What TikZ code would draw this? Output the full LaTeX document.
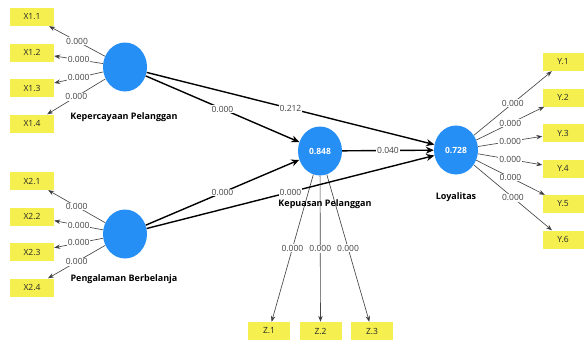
\documentclass[tikz,border=0pt]{standalone}
\usepackage{fontspec}
\setmainfont{Open Sans}
\usepackage{tikz}
\usetikzlibrary{shapes, arrows.meta, positioning}
\definecolor{lvblue}{RGB}{38,143,245}
\definecolor{mvyellow}{RGB}{245,240,80}
\definecolor{loadgray}{RGB}{70,70,70}
\tikzset{
    latent/.style={
        ellipse,
        fill=lvblue,
        minimum width=44pt,
        minimum height=49pt,
        inner sep=0pt,
        text=white,
        font=\fontsize{8.5}{10}\selectfont\bfseries,
    },
    indic/.style={
        rectangle,
        fill=mvyellow,
        minimum width=44pt,
        minimum height=18pt,
        text=black!85,
        font=\fontsize{8.5}{10}\selectfont,
    },
    lvname/.style={
        font=\fontsize{9}{11}\selectfont\bfseries,
    },
    coef/.style={
        fill=white,
        inner sep=0.8pt,
        text=black!75,
        font=\fontsize{8.5}{10}\selectfont,
    },
    loading/.style={
        -{Stealth[length=6pt,width=4.5pt]},
        draw=loadgray,
        line width=0.65pt,
    },
    inner/.style={
        -{Stealth[length=8pt,width=7pt]},
        draw=black,
        line width=1.4pt,
    },
}

\begin{document}
\begin{tikzpicture}[x=1pt, y=-1pt, node distance=35.5pt]
      \useasboundingbox (0,0) rectangle (584,340);

      % latent variables
      \node [latent] (KP) at (125,67) {};
      \node [latent] (PB) at (125,234) {};
      \node [latent] (KS) at (320,151) {0.848};
      \node [latent] (LY) at (456,150) {0.728};

      % indicators
      \node [indic] (X11) at (32,17) {X1.1};
      \node [indic] (X12) [below of=X11] {X1.2};
      \node [indic] (X13) [below of=X12] {X1.3};
      \node [indic] (X14) [below of=X13] {X1.4};

      \node [indic] (X21) at (32,181) {X2.1};
      \node [indic] (X22) [below of=X21] {X2.2};
      \node [indic] (X23) [below of=X22] {X2.3};
      \node [indic] (X24) [below of=X23] {X2.4};

      \node [indic, minimum width=41pt] (Y1) at (563,62) {Y.1};
      \node [indic, minimum width=41pt] (Y2) [below of=Y1] {Y.2};
      \node [indic, minimum width=41pt] (Y3) [below of=Y2] {Y.3};
      \node [indic, minimum width=41pt] (Y4) [below of=Y3] {Y.4};
      \node [indic, minimum width=41pt] (Y5) [below of=Y4] {Y.5};
      \node [indic, minimum width=41pt] (Y6) [below of=Y5] {Y.6};

      \node [indic, minimum width=42pt] (Z1) at (269,331) {Z.1};
      \node [indic, minimum width=42pt] (Z2) [node distance=51.5pt, right of=Z1] {Z.2};
      \node [indic, minimum width=42pt] (Z3) [node distance=51.5pt, right of=Z2] {Z.3};

      % outer loadings
      \path[loading] (KP) edge node[coef] {0.000} (X11);
      \path[loading] (KP) edge node[coef] {0.000} (X12);
      \path[loading] (KP) edge node[coef] {0.000} (X13);
      \path[loading] (KP) edge node[coef] {0.000} (X14);
      \path[loading] (PB) edge node[coef] {0.000} (X21);
      \path[loading] (PB) edge node[coef] {0.000} (X22);
      \path[loading] (PB) edge node[coef] {0.000} (X23);
      \path[loading] (PB) edge node[coef] {0.000} (X24);
      \path[loading] (LY) edge node[coef] {0.000} (Y1);
      \path[loading] (LY) edge node[coef] {0.000} (Y2);
      \path[loading] (LY) edge node[coef] {0.000} (Y3);
      \path[loading] (LY) edge node[coef] {0.000} (Y4);
      \path[loading] (LY) edge node[coef] {0.000} (Y5);
      \path[loading] (LY) edge node[coef] {0.000} (Y6);
      \path[loading] (KS) edge node[coef] {0.000} (Z1);
      \path[loading] (KS) edge node[coef] {0.000} (Z2);
      \path[loading] (KS) edge node[coef] {0.000} (Z3);

      % inner model
      \path[inner] (KP) edge node[coef] {0.212} (LY);
      \path[inner] (KP) edge node[coef] {0.000} (KS);
      \path[inner] (PB) edge node[coef] {0.000} (KS);
      \path[inner] (PB) edge node[coef] {0.000} (LY);
      \path[inner] (KS) edge node[coef] {0.040} (LY);

      % construct names
      \node [lvname] (KPname) at (124,117) {Kepercayaan Pelanggan};
      \node [lvname] (PBname) at (124,279) {Pengalaman Berbelanja};
      \node [lvname] (KSname) at (325,204) {Kepuasan Pelanggan};
      \node [lvname] (LYname) at (456,197) {Loyalitas};
\end{tikzpicture}
\end{document}
